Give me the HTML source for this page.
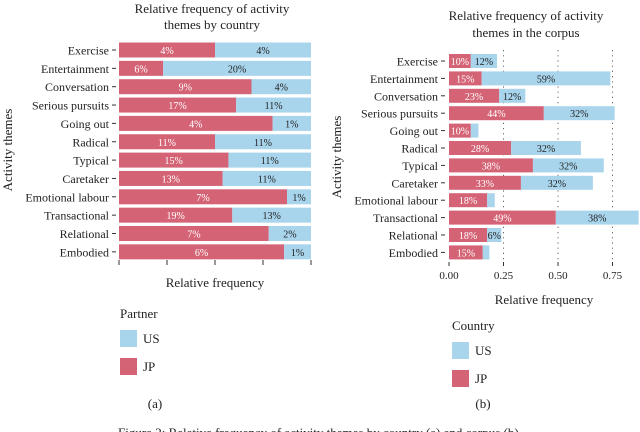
<!DOCTYPE html>
<html><head><meta charset="utf-8"><style>
body{margin:0;background:#fff;width:640px;height:432px;overflow:hidden}
svg{display:block;font-family:"Liberation Serif",serif}
</style></head><body>
<svg id="chart" width="640" height="432" viewBox="0 0 640 432"></svg>
<script>
const categories=["Exercise","Entertainment","Conversation","Serious pursuits","Going out","Radical","Typical","Caretaker","Emotional labour","Transactional","Relational","Embodied"];
const leftJPShare=[0.5,0.23,0.69,0.61,0.80,0.5,0.57,0.54,0.875,0.59,0.78,0.86];
const leftJPLabels=["4%","6%","9%","17%","4%","11%","15%","13%","7%","19%","7%","6%"];
const leftUSLabels=["4%","20%","4%","11%","1%","11%","11%","11%","1%","13%","2%","1%"];
const rightJP=[0.10,0.15,0.23,0.435,0.10,0.285,0.385,0.33,0.175,0.49,0.175,0.155];
const rightTotal=[0.22,0.74,0.35,0.76,0.135,0.605,0.71,0.66,0.21,0.87,0.24,0.185];
const rightJPLabels=["10%","15%","23%","44%","10%","28%","38%","33%","18%","49%","18%","15%"];
const rightUSLabels=["12%","59%","12%","32%","","32%","32%","32%","","38%","6%",""];
const rightTicks=[0,0.25,0.5,0.75];
const rightTickLabels=["0.00","0.25","0.50","0.75"];
const JP="#d46475",US="#a8d4ec";
const svg=document.getElementById('chart');
function el(t,a,txt){const e=document.createElementNS("http://www.w3.org/2000/svg",t);for(const k in a)e.setAttribute(k,a[k]);if(txt!==undefined)e.textContent=txt;svg.appendChild(e);return e;}
// Left chart
const lx=v=>119+v*192, ly=i=>50+i*18.35;
let t;
t=el('text',{x:212,y:13,'text-anchor':'middle','font-size':13,fill:'#222'},'Relative frequency of activity');

t=el('text',{x:212,y:29,'text-anchor':'middle','font-size':13,fill:'#222'},'themes by country');

categories.forEach((c,i)=>{
 const y=ly(i);
 let r=el('rect',{x:lx(0),y:y-7.5,width:lx(leftJPShare[i])-lx(0),height:15,fill:JP});
 
 r=el('rect',{x:lx(leftJPShare[i]),y:y-7.5,width:lx(1)-lx(leftJPShare[i]),height:15,fill:US});
 
 t=el('text',{x:(lx(0)+lx(leftJPShare[i]))/2,y:y+4,'text-anchor':'middle','font-size':10,fill:'#fff'},leftJPLabels[i]);
 
 t=el('text',{x:(lx(leftJPShare[i])+lx(1))/2,y:y+4,'text-anchor':'middle','font-size':10,fill:'#222'},leftUSLabels[i]);
 
 t=el('text',{x:109,y:y+4.5,'text-anchor':'end','font-size':12,fill:'#222'},c);
 
 el('line',{x1:112,x2:116,y1:y,y2:y,stroke:'#333'});
});
[0,0.25,0.5,0.75,1].forEach(v=>{el('line',{x1:lx(v),x2:lx(v),y1:260,y2:265,stroke:'#333'});});
t=el('text',{x:215,y:287,'text-anchor':'middle','font-size':13,fill:'#222'},'Relative frequency');

t=el('text',{x:0,y:0,'text-anchor':'middle','font-size':13,fill:'#222',transform:'translate(12,150) rotate(-90)'},'Activity themes');

// Right chart
const rx=v=>449+v*218, ry=i=>61+i*17.4;
t=el('text',{x:526,y:20,'text-anchor':'middle','font-size':13,fill:'#222'},'Relative frequency of activity');

t=el('text',{x:526,y:37,'text-anchor':'middle','font-size':13,fill:'#222'},'themes in the corpus');

rightTicks.forEach((v,k)=>{
 if(v>0){const g=el('line',{x1:rx(v),x2:rx(v),y1:50,y2:262,stroke:'#666','stroke-dasharray':'1.2,4'});}
 el('line',{x1:rx(v),x2:rx(v),y1:262,y2:266,stroke:'#333'});
 t=el('text',{x:rx(v),y:279,'text-anchor':'middle','font-size':11,fill:'#222'},rightTickLabels[k]);
 
});
categories.forEach((c,i)=>{
 const y=ry(i);
 let r=el('rect',{x:rx(0),y:y-7,width:rx(rightJP[i])-rx(0),height:14,fill:JP});
 
 r=el('rect',{x:rx(rightJP[i]),y:y-7,width:rx(rightTotal[i])-rx(rightJP[i]),height:14,fill:US});
 
 t=el('text',{x:(rx(0)+rx(rightJP[i]))/2,y:y+4,'text-anchor':'middle','font-size':10,fill:'#fff'},rightJPLabels[i]);
 
 if(rightUSLabels[i]){t=el('text',{x:(rx(rightJP[i])+rx(rightTotal[i]))/2,y:y+4,'text-anchor':'middle','font-size':10,fill:'#222'},rightUSLabels[i]);
 }
 t=el('text',{x:438,y:y+4.5,'text-anchor':'end','font-size':12,fill:'#222'},c);
 
 el('line',{x1:441,x2:445,y1:y,y2:y,stroke:'#333'});
});
t=el('text',{x:544,y:304,'text-anchor':'middle','font-size':13,fill:'#222'},'Relative frequency');

t=el('text',{x:0,y:0,'text-anchor':'middle','font-size':13,fill:'#222',transform:'translate(341,157) rotate(-90)'},'Activity themes');

// Legends
function legend(x,y,title,name){
 t=el('text',{x:x,y:y,'font-size':13,fill:'#222'},title);
 let r=el('rect',{x:x,y:y+12,width:17,height:17,fill:US});
 t=el('text',{x:x+23,y:y+25,'font-size':13,fill:'#222'},'US');
 r=el('rect',{x:x,y:y+40,width:17,height:17,fill:JP});
 t=el('text',{x:x+23,y:y+53,'font-size':13,fill:'#222'},'JP');
}
legend(120,318,'Partner','left-legend');
legend(452,330,'Country','right-legend');
t=el('text',{x:155,y:408,'text-anchor':'middle','font-size':13,fill:'#222'},'(a)');
t=el('text',{x:483,y:408,'text-anchor':'middle','font-size':13,fill:'#222'},'(b)');
t=el('text',{x:320,y:437,'text-anchor':'middle','font-size':13,fill:'#222'},'Figure 2: Relative frequency of activity themes by country (a) and corpus (b).');

</script>
</body></html>
